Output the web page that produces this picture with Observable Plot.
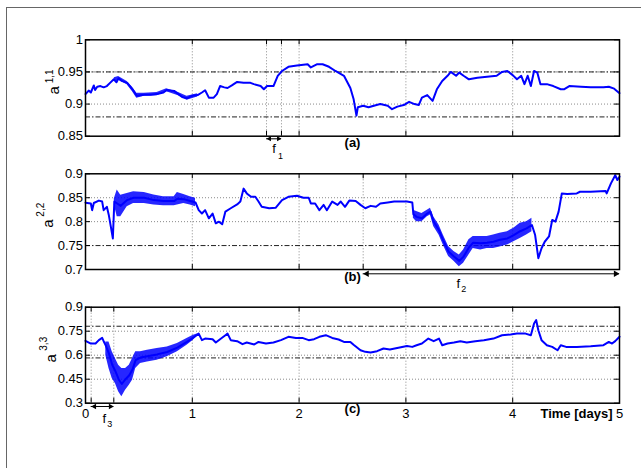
<!DOCTYPE html>
<html><head><meta charset="utf-8">
<script src="https://cdn.jsdelivr.net/npm/d3@7"></script>
<script src="https://cdn.jsdelivr.net/npm/@observablehq/plot@0.6"></script>
<style>
html,body{margin:0;padding:0;background:#fff;overflow:hidden;}
#wrap{position:relative;width:641px;height:468px;overflow:hidden;background:#fff;}
#border{position:absolute;left:6px;top:7px;width:700px;height:600px;border:1.3px solid #666;box-sizing:border-box;}
.panel{position:absolute;left:0;}
</style></head><body><div id="wrap"><div id="border"></div></div>
<script>
// ---- data (days, value) ----
const xTicks = [0, 1, 2, 3, 4, 5];
const xTickLabels = ["0", "1", "2", "3", "4", "5"];
const xGrid = [1, 2, 3, 4];

const a11Ticks = [0.85, 0.9, 0.95, 1];
const a11TickLabels = ["0.85", "0.9", "0.95", "1"];
const a11Grid = [0.9, 0.95];
const a11Ref = [0.88, 0.95];
const f1 = [1.695, 1.835];
const a11 = [[0,0.9155],[0.03,0.921],[0.05,0.918],[0.078,0.929],[0.09,0.922],[0.11,0.927],[0.14,0.928],[0.17,0.926],[0.2,0.928],[0.23,0.933],[0.265,0.9385],[0.29,0.934],[0.31,0.94],[0.34,0.936],[0.39,0.933],[0.44,0.923],[0.48,0.913],[0.55,0.9145],[0.61,0.9145],[0.67,0.9155],[0.73,0.918],[0.76,0.922],[0.83,0.9205],[0.87,0.9155],[0.905,0.911],[0.95,0.909],[1.0,0.913],[1.05,0.914],[1.09,0.918],[1.12,0.9215],[1.155,0.91],[1.2,0.91],[1.23,0.9155],[1.26,0.928],[1.3,0.926],[1.33,0.925],[1.37,0.929],[1.42,0.9345],[1.48,0.933],[1.545,0.933],[1.576,0.931],[1.64,0.928],[1.67,0.923],[1.7,0.928],[1.76,0.928],[1.8,0.944],[1.84,0.9515],[1.9,0.958],[1.98,0.96],[2.08,0.962],[2.11,0.957],[2.17,0.962],[2.22,0.962],[2.28,0.958],[2.34,0.9515],[2.42,0.944],[2.48,0.925],[2.51,0.908],[2.537,0.882],[2.55,0.895],[2.6,0.8975],[2.65,0.895],[2.7,0.8975],[2.76,0.9],[2.83,0.8975],[2.87,0.892],[2.92,0.896],[2.98,0.8985],[3.03,0.9035],[3.08,0.9],[3.12,0.8985],[3.15,0.91],[3.2,0.914],[3.25,0.905],[3.29,0.923],[3.34,0.936],[3.39,0.944],[3.42,0.95],[3.47,0.944],[3.5,0.949],[3.54,0.944],[3.59,0.9385],[3.67,0.941],[3.76,0.9425],[3.85,0.944],[3.9,0.95],[3.95,0.9515],[4.0,0.945],[4.04,0.9385],[4.08,0.944],[4.11,0.931],[4.14,0.944],[4.17,0.928],[4.2,0.9515],[4.23,0.949],[4.26,0.931],[4.32,0.931],[4.38,0.928],[4.45,0.923],[4.48,0.923],[4.53,0.928],[4.64,0.927],[4.73,0.926],[4.85,0.926],[4.9,0.927],[4.95,0.924],[5.0,0.917]];
const a11Band = [[0.27,0.935,0.941],[0.31,0.937,0.943],[0.39,0.93,0.935],[0.44,0.919,0.926],[0.48,0.909,0.917],[0.55,0.912,0.917],[0.67,0.913,0.918],[0.76,0.919,0.924],[0.87,0.913,0.918],[0.95,0.906,0.912],[1.05,0.911,0.916]];

const a22Ticks = [0.7, 0.75, 0.8, 0.85, 0.9];
const a22TickLabels = ["0.7", "0.75", "0.8", "0.85", "0.9"];
const a22Grid = [0.8, 0.85];
const a22Ref = [0.75];
const f2 = [2.6, 5];
const a22 = [[0,0.8396],[0.05,0.838],[0.062,0.824],[0.078,0.839],[0.125,0.844],[0.156,0.842],[0.17,0.824],[0.2,0.831],[0.218,0.814],[0.24,0.786],[0.256,0.765],[0.27,0.842],[0.297,0.838],[0.33,0.833],[0.39,0.845],[0.45,0.85],[0.55,0.85],[0.64,0.845],[0.73,0.843],[0.83,0.843],[0.86,0.848],[0.92,0.847],[0.98,0.843],[1.03,0.84],[1.06,0.824],[1.09,0.817],[1.12,0.824],[1.155,0.807],[1.19,0.817],[1.22,0.7965],[1.25,0.8],[1.28,0.7945],[1.31,0.821],[1.36,0.828],[1.42,0.836],[1.45,0.842],[1.48,0.869],[1.51,0.859],[1.55,0.852],[1.59,0.852],[1.62,0.842],[1.65,0.831],[1.72,0.828],[1.78,0.829],[1.84,0.845],[1.9,0.852],[1.98,0.854],[2.04,0.85],[2.09,0.85],[2.11,0.838],[2.15,0.838],[2.19,0.824],[2.23,0.835],[2.26,0.824],[2.31,0.842],[2.36,0.835],[2.39,0.842],[2.43,0.831],[2.47,0.844],[2.53,0.843],[2.575,0.835],[2.62,0.828],[2.67,0.833],[2.72,0.831],[2.76,0.838],[2.83,0.84],[2.89,0.842],[2.95,0.842],[3.01,0.842],[3.06,0.84],[3.07,0.8155],[3.1,0.81],[3.15,0.807],[3.2,0.817],[3.23,0.821],[3.26,0.8],[3.31,0.782],[3.35,0.761],[3.4,0.737],[3.45,0.727],[3.5,0.718],[3.54,0.727],[3.59,0.746],[3.63,0.756],[3.7,0.755],[3.76,0.756],[3.82,0.758],[3.88,0.762],[3.95,0.765],[4.01,0.772],[4.07,0.78],[4.13,0.786],[4.18,0.793],[4.21,0.772],[4.24,0.7236],[4.27,0.7445],[4.3,0.758],[4.34,0.769],[4.37,0.8035],[4.4,0.8],[4.43,0.821],[4.46,0.859],[4.51,0.858],[4.6,0.859],[4.63,0.8625],[4.73,0.8625],[4.87,0.864],[4.88,0.859],[4.92,0.88],[4.96,0.897],[4.98,0.887],[5.0,0.894]];
const a22Band = [[0.27,0.835,0.848],[0.297,0.8105,0.866],[0.33,0.8105,0.855],[0.39,0.831,0.859],[0.45,0.838,0.8625],[0.55,0.838,0.861],[0.64,0.835,0.8555],[0.73,0.833,0.852],[0.83,0.833,0.852],[0.86,0.835,0.861],[0.92,0.838,0.857],[0.98,0.835,0.852],[1.03,0.831,0.849],
  [3.07,0.807,0.824],[3.1,0.8,0.821],[3.15,0.8,0.817],[3.2,0.81,0.824],[3.23,0.814,0.828],[3.26,0.79,0.81],[3.31,0.772,0.793],[3.35,0.751,0.772],[3.4,0.727,0.748],[3.45,0.717,0.7375],[3.5,0.706,0.7305],[3.54,0.713,0.741],[3.59,0.7305,0.762],[3.63,0.744,0.769],[3.7,0.741,0.769],[3.76,0.744,0.769],[3.82,0.744,0.772],[3.88,0.747,0.776],[3.95,0.751,0.779],[4.01,0.758,0.786],[4.07,0.765,0.7965],[4.13,0.772,0.8],[4.18,0.779,0.807]];

const a33Ticks = [0.3, 0.45, 0.6, 0.75, 0.9];
const a33TickLabels = ["0.3", "0.45", "0.6", "0.75", "0.9"];
const a33Grid = [0.45, 0.6, 0.75];
const a33Ref = [0.583, 0.781];
const f3 = [0.053, 0.265];
const a33 = [[0,0.69],[0.05,0.673],[0.094,0.673],[0.125,0.694],[0.156,0.708],[0.17,0.6875],[0.19,0.66],[0.22,0.61],[0.25,0.54],[0.28,0.5],[0.31,0.45],[0.34,0.42],[0.375,0.45],[0.41,0.475],[0.44,0.51],[0.47,0.57],[0.515,0.585],[0.58,0.594],[0.67,0.605],[0.765,0.62],[0.86,0.647],[0.95,0.683],[1.01,0.71],[1.06,0.735],[1.09,0.694],[1.12,0.704],[1.19,0.7],[1.22,0.679],[1.26,0.7],[1.31,0.725],[1.33,0.735],[1.36,0.694],[1.42,0.6875],[1.47,0.669],[1.51,0.679],[1.58,0.667],[1.62,0.683],[1.69,0.673],[1.76,0.679],[1.83,0.694],[1.9,0.715],[1.97,0.708],[2.03,0.708],[2.09,0.694],[2.14,0.7],[2.19,0.715],[2.25,0.725],[2.31,0.708],[2.37,0.698],[2.42,0.683],[2.48,0.683],[2.51,0.665],[2.575,0.631],[2.62,0.621],[2.67,0.617],[2.73,0.625],[2.79,0.642],[2.85,0.635],[2.93,0.646],[3.01,0.658],[3.06,0.652],[3.1,0.6625],[3.15,0.673],[3.21,0.704],[3.26,0.6875],[3.31,0.704],[3.34,0.6625],[3.39,0.673],[3.45,0.679],[3.51,0.6875],[3.57,0.679],[3.65,0.6875],[3.73,0.694],[3.82,0.704],[3.9,0.725],[3.98,0.729],[4.04,0.735],[4.12,0.735],[4.17,0.725],[4.2,0.798],[4.22,0.819],[4.24,0.756],[4.27,0.694],[4.32,0.6625],[4.37,0.652],[4.42,0.631],[4.45,0.6625],[4.5,0.652],[4.6,0.652],[4.73,0.656],[4.85,0.6625],[4.9,0.683],[4.93,0.673],[4.96,0.688],[5.0,0.715]];
const a33Band = [[0.19,0.6,0.683],[0.22,0.517,0.683],[0.25,0.454,0.621],[0.28,0.423,0.579],[0.31,0.371,0.5375],[0.34,0.34,0.517],[0.375,0.381,0.517],[0.41,0.4125,0.5375],[0.44,0.444,0.579],[0.47,0.517,0.621],[0.515,0.548,0.621],[0.58,0.558,0.631],[0.67,0.569,0.642],[0.765,0.59,0.652],[0.86,0.621,0.673],[0.95,0.6625,0.704],[1.01,0.694,0.725],[1.06,0.735,0.735]];

const panelLabels = ["(a)", "(b)", "(c)"];
const yLabelSups = ["1,1", "2,2", "3,3"];
const fSubs = ["1", "2", "3"];
const fLabelDays = [1.765, 3.49, 0.175];
const xTitle = "Time [days]";

// ---- layout ----
const W = 641, ML = 85, MR = 22, plotW = W - ML - MR;
const FONT = "Liberation Sans, Arial, Helvetica, sans-serif";
const BLUE = "#0000ff";

function makePanel(p) {
  const h = p.height - p.mt - p.mb;
  const xt = xTicks.concat(p.f.filter(d => d < 5));
  const y0 = p.yDomain[0];
  const tipOff = 1.555 * p.ar;
  const marks = [
    Plot.ruleX(xGrid.concat(p.f.filter(d => d < 5)), {stroke: "#8a8a8a", strokeDasharray: "1,2", strokeWidth: 1}),
    Plot.ruleY(p.grid, {stroke: "#8a8a8a", strokeDasharray: "1,2", strokeWidth: 1}),
    Plot.ruleY(p.ref, {stroke: "#222", strokeDasharray: "5,2,1.5,2", strokeWidth: 1}),
    Plot.areaY(p.band.slice(0, p.split), {x: d => d[0], y1: d => d[1], y2: d => d[2], fill: BLUE, fillOpacity: 0.85}),
    Plot.areaY(p.band.slice(p.split), {x: d => d[0], y1: d => d[1], y2: d => d[2], fill: BLUE, fillOpacity: 0.85}),
    Plot.line(p.series, {x: d => d[0], y: d => d[1], stroke: BLUE, strokeWidth: 2}),
    Plot.ruleY(p.yTicks, {insetRight: plotW - 5, stroke: "black"}),
    Plot.ruleY(p.yTicks, {insetLeft: plotW - 5, stroke: "black"}),
    Plot.ruleX(xt, {insetBottom: h - 5, stroke: "black"}),
    Plot.ruleX(xt, {insetTop: h - 5, stroke: "black"}),
    Plot.frame({stroke: "black", strokeWidth: 1.5}),
    Plot.axisY({ticks: p.yTicks, tickFormat: d => p.yTickLabels[p.yTicks.indexOf(d)], tickSize: 0, tickPadding: 2.5, fontSize: 13}),
    // f interval arrow
    Plot.ruleY([y0], {x1: () => p.f[0], x2: () => p.f[1], dy: p.ady, stroke: "black", strokeWidth: 1}),
    Plot.dot([p.f[0]], {x: d => d, y: () => y0, dy: p.ady, dx: tipOff, symbol: "triangle", rotate: -90, r: p.ar, fill: "black", stroke: "none"}),
    Plot.dot([p.f[1]], {x: d => d, y: () => y0, dy: p.ady, dx: -tipOff, symbol: "triangle", rotate: 90, r: p.ar, fill: "black", stroke: "none"}),
    Plot.text(["f"], {x: () => p.fDay, y: () => y0, dy: p.fdy, fontSize: 13}),
    Plot.text([p.fSub], {x: () => p.fDay, y: () => y0, dx: p.sdx, dy: p.sdy, fontSize: 9}),
    // panel label
    Plot.text([p.label], {frameAnchor: "bottom", dy: p.ldy, fontSize: 13, fontWeight: "bold"}),
    // y label a^{i,i}
    Plot.text(["a"], {frameAnchor: "left", rotate: -90, dx: p.adx, dy: p.ady2, fontSize: 15}),
    Plot.text([p.sup], {frameAnchor: "left", rotate: -90, dx: p.supdx, dy: p.supdy, fontSize: 10})
  ];
  if (p.showX) {
    marks.push(Plot.axisX({ticks: xTicks, tickFormat: d => xTickLabels[xTicks.indexOf(d)], tickSize: 0, tickPadding: 6, fontSize: 13}));
    marks.push(Plot.text([xTitle], {frameAnchor: "bottom-right", dx: -7, dy: 15, textAnchor: "end", fontSize: 13, fontWeight: "bold"}));
  }
  const svg = Plot.plot({
    width: W, height: p.height,
    marginLeft: ML, marginRight: MR, marginTop: p.mt, marginBottom: p.mb,
    x: {domain: [0, 5], axis: p.showX ? undefined : null},
    y: {domain: p.yDomain},
    style: {fontFamily: FONT, fontSize: "13px", background: "transparent", overflow: "visible", color: "black"},
    marks
  });
  svg.classList.add("panel");
  svg.style.top = p.top + "px";
  svg.style.position = "absolute";
  document.getElementById("wrap").appendChild(svg);
}

makePanel({top: 0, height: 170, mt: 39.3, mb: 34.3, yDomain: [0.85, 1], yTicks: a11Ticks, yTickLabels: a11TickLabels,
  grid: a11Grid, ref: a11Ref, f: f1, series: a11, band: a11Band, split: a11Band.length,
  ar: 1.9, ady: 2.6, fDay: fLabelDays[0], fSub: fSubs[0], fdy: 12.5, sdx: 6.5, sdy: 19.5,
  label: panelLabels[0], ldy: 10.5, sup: yLabelSups[0], adx: -31.5, ady2: 6.5, supdx: -36, supdy: -4.7, showX: false});

makePanel({top: 150, height: 150, mt: 23.3, mb: 31, yDomain: [0.7, 0.9], yTicks: a22Ticks, yTickLabels: a22TickLabels,
  grid: a22Grid, ref: a22Ref, f: f2, series: a22, band: a22Band, split: 13,
  ar: 2.4, ady: 4.3, fDay: fLabelDays[1], fSub: fSubs[1], fdy: 14.5, sdx: 5.5, sdy: 19.5,
  label: panelLabels[1], ldy: 11, sup: yLabelSups[1], adx: -37.3, ady2: 6, supdx: -44.5, supdy: -5, showX: false});

makePanel({top: 290, height: 178, mt: 16.7, mb: 65.3, yDomain: [0.3, 0.9], yTicks: a33Ticks, yTickLabels: a33TickLabels,
  grid: a33Grid, ref: a33Ref, f: f3, series: a33, band: a33Band, split: a33Band.length,
  ar: 2.1, ady: 3.3, fDay: fLabelDays[2], fSub: fSubs[2], fdy: 15.3, sdx: 5.5, sdy: 21,
  label: panelLabels[2], ldy: 10, sup: yLabelSups[2], adx: -34.8, ady2: 7.3, supdx: -42, supdy: -4.5, showX: true});
</script>
</body></html>
